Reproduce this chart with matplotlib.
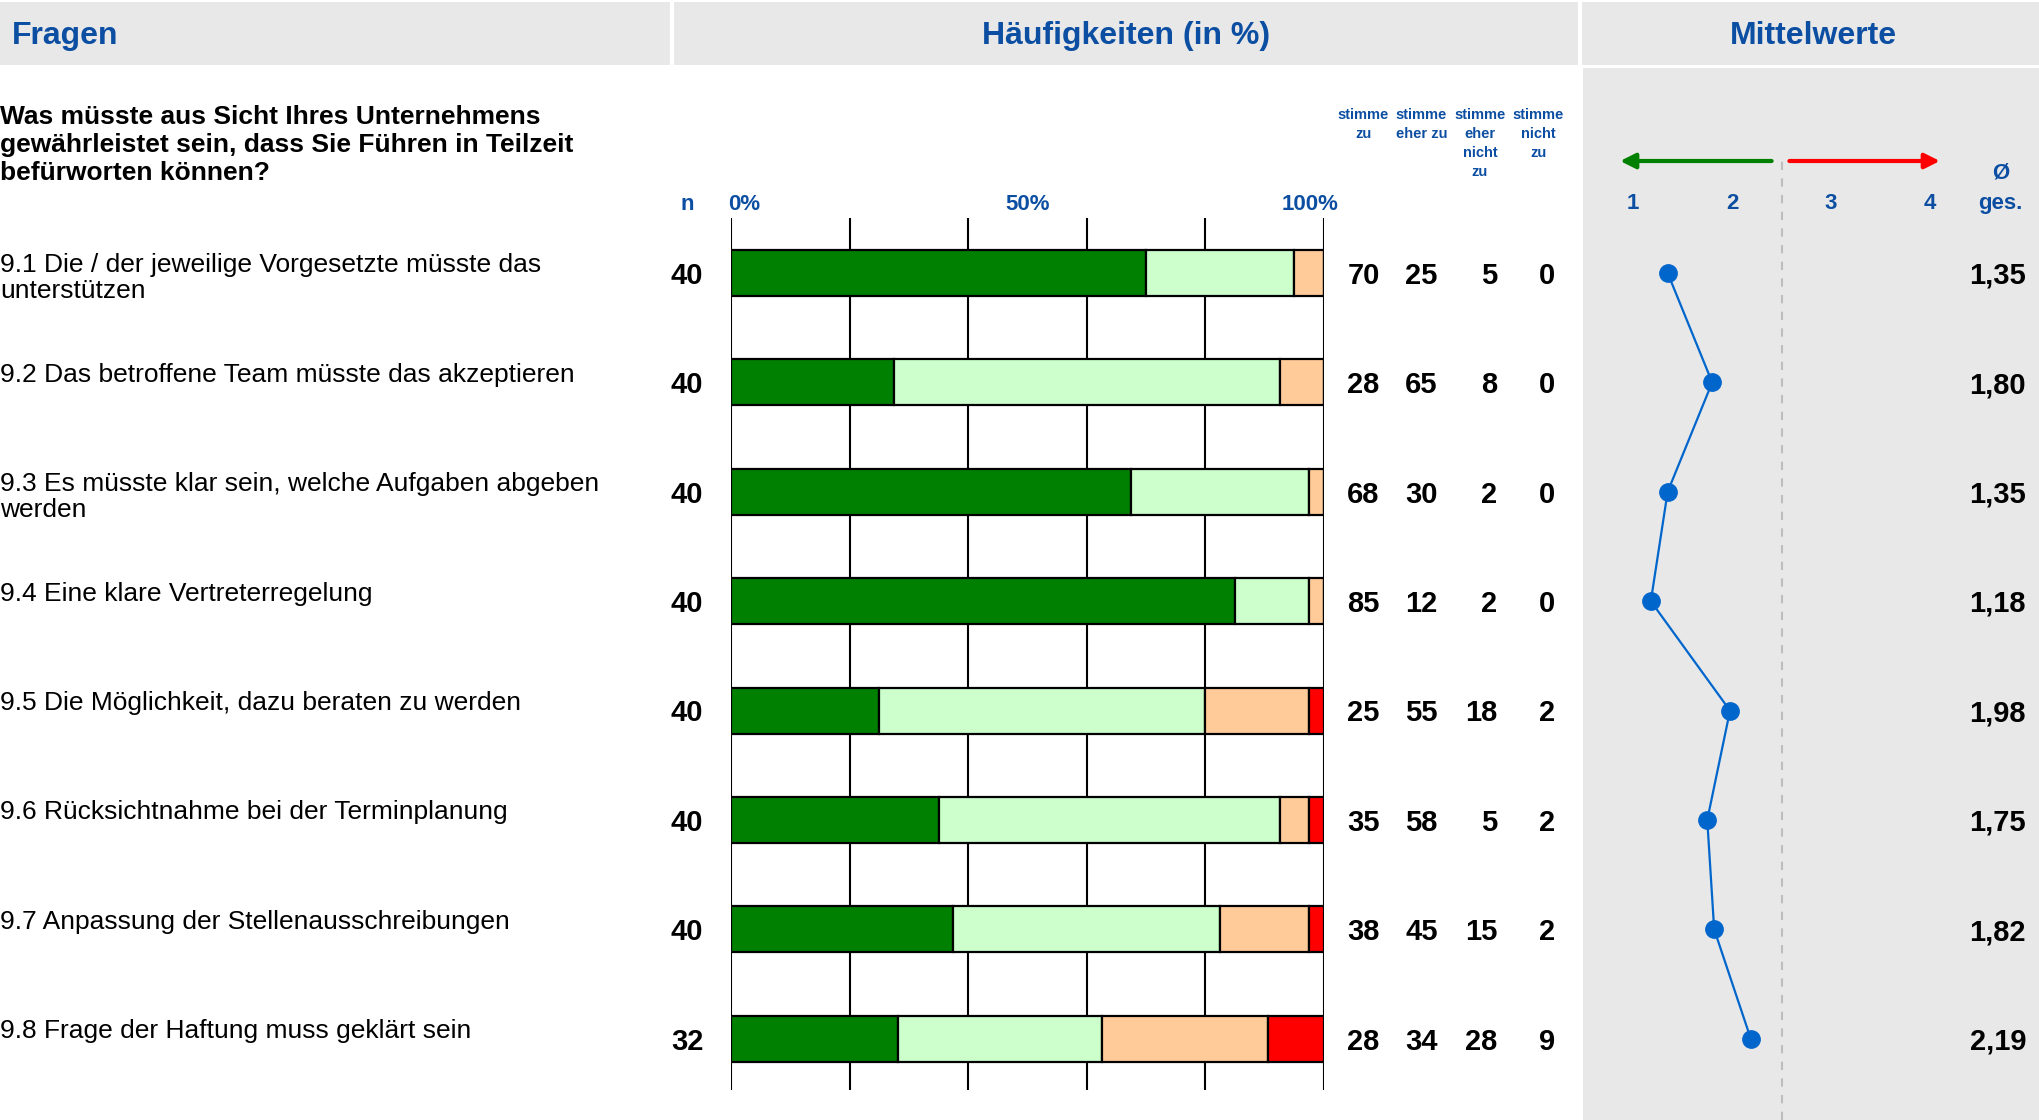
import matplotlib
matplotlib.use("Agg")
import matplotlib.pyplot as plt
from matplotlib.patches import Rectangle
from matplotlib.lines import Line2D
from matplotlib.transforms import blended_transform_factory

plt.rcParams['font.family'] = ['Liberation Sans Narrow', 'Liberation Sans', 'DejaVu Sans']

# questions and answers
title_question = ("Was müsste aus Sicht Ihres Unternehmens\n"
                  "gewährleistet sein, dass Sie Führen in Teilzeit\n"
                  "befürworten können?")
questions = [
    "9.1 Die / der jeweilige Vorgesetzte müsste das\nunterstützen",
    "9.2 Das betroffene Team müsste das akzeptieren",
    "9.3 Es müsste klar sein, welche Aufgaben abgeben\nwerden",
    "9.4 Eine klare Vertreterregelung",
    "9.5 Die Möglichkeit, dazu beraten zu werden",
    "9.6 Rücksichtnahme bei der Terminplanung",
    "9.7 Anpassung der Stellenausschreibungen",
    "9.8 Frage der Haftung muss geklärt sein",
]
n_values = [40, 40, 40, 40, 40, 40, 40, 32]

# shares in % (bar lengths)
share_agree = [70, 27.5, 67.5, 85, 25, 35, 37.5, 28.1]
share_rather_agree = [25, 65, 30, 12.5, 55, 57.5, 45, 34.4]
share_rather_disagree = [5, 7.5, 2.5, 2.5, 17.5, 5, 15, 28.1]
share_disagree = [0, 0, 0, 0, 2.5, 2.5, 2.5, 9.4]

# printed labels next to the bars
labels_agree = [70, 28, 68, 85, 25, 35, 38, 28]
labels_rather_agree = [25, 65, 30, 12, 55, 58, 45, 34]
labels_rather_disagree = [5, 8, 2, 2, 18, 5, 15, 28]
labels_disagree = [0, 0, 0, 0, 2, 2, 2, 9]

means = [1.35, 1.80, 1.35, 1.18, 1.98, 1.75, 1.82, 2.19]

answer_names = ["stimme\nzu", "stimme\neher zu", "stimme\neher\nnicht\nzu", "stimme\nnicht\nzu"]
segment_colors = ["#008000", "#CCFFCC", "#FFCC99", "#FF0000"]
scale_ticks = [1, 2, 3, 4]

BLUE = "#0B4EA2"
GREY = "#E8E8E8"
W, H = 2039, 1120
ROW0, ROWH = 273, 109.4


def fx(px):
    return px / W


def fy(py):
    return 1 - py / H


def row_of(py):
    return (py - ROW0) / ROWH


fig = plt.figure(figsize=(W / 100, H / 100), dpi=100)

# header band
fig.patches.append(Rectangle((0, fy(65)), 1, (65 - 2) / H, transform=fig.transFigure,
                             facecolor=GREY, edgecolor="none", zorder=0))
for sx in (672, 1580):
    fig.lines.append(Line2D([fx(sx), fx(sx)], [fy(65), fy(2)], transform=fig.transFigure,
                            color="white", lw=3))
fig.text(fx(12), fy(36), "Fragen", color=BLUE, fontsize=23, weight="bold", va="center")
fig.text(fx(1126), fy(36), "Häufigkeiten (in %)", color=BLUE, fontsize=23, weight="bold",
         va="center", ha="center")
fig.text(fx(1813), fy(36), "Mittelwerte", color=BLUE, fontsize=23, weight="bold",
         va="center", ha="center")

fig.text(0, fy(105), title_question, fontsize=19, weight="bold", va="top", ha="left",
         linespacing=1.2)

# frequency bars
rows = list(range(len(questions)))
ax = fig.add_axes([fx(731), fy(1090), (1324 - 731) / W, (1090 - 218) / H])
ax.set_xlim(0, 100)
ax.set_ylim(row_of(1090), row_of(218))
ax.axis("off")
ax.vlines([0, 20, 40, 60, 80, 100], row_of(1090), row_of(218), color="black", lw=1.5, zorder=1)

shares = [share_agree, share_rather_agree, share_rather_disagree, share_disagree]
left = [0] * len(rows)
for vals, col in zip(shares, segment_colors):
    ax.barh(rows, vals, left=left, height=0.42, color=col, edgecolor="black",
            linewidth=1.6, zorder=2)
    left = [l + v for l, v in zip(left, vals)]

head_cols = [106.6, 116.4, 126.3, 136.1]
value_cols = [109.4, 119.2, 129.2, 139.0]
labels = [labels_agree, labels_rather_agree, labels_rather_disagree, labels_disagree]
for xh, xv, lab, name in zip(head_cols, value_cols, labels, answer_names):
    ax.text(xh, row_of(108), name, ha="center", va="top", fontsize=10.5, weight="bold",
            color=BLUE, linespacing=1.45)
    for r, v in zip(rows, lab):
        ax.text(xv, r + 0.025, str(v), ha="right", va="center", fontsize=21, weight="bold")

hy = row_of(204)
ax.text(-7.4, hy, "n", ha="center", va="center", fontsize=16, weight="bold", color=BLUE)
ax.text(2.2, hy, "0%", ha="center", va="center", fontsize=16, weight="bold", color=BLUE)
ax.text(50, hy, "50%", ha="center", va="center", fontsize=16, weight="bold", color=BLUE)
ax.text(97.6, hy, "100%", ha="center", va="center", fontsize=16, weight="bold", color=BLUE)
for r, n in zip(rows, n_values):
    ax.text(-7.4, r + 0.025, str(n), ha="center", va="center", fontsize=21, weight="bold")

trans = blended_transform_factory(fig.transFigure, ax.transData)
for r, q in zip(rows, questions):
    fig.text(0, r - 0.18, q, transform=trans, fontsize=19, va="top", ha="left", linespacing=1.1)

# means panel
mx = fig.add_axes([fx(1583), 0, (W - 1583) / W, (H - 68) / H])
mx.set_facecolor(GREY)
mx.set_xlim(1 - 50 / 99, 4 + 109 / 99)
mx.set_ylim(row_of(1120), row_of(68))
mx.set_xticks([])
mx.set_yticks([])
for s in mx.spines.values():
    s.set_visible(False)

mx.vlines(2.5, row_of(1120), row_of(157), colors="#BDBDBD", linestyles=(0, (4, 4)), lw=1.5)
mx.plot(means, rows, color="#0066CC", lw=1.6, marker="o", ms=12.5, zorder=3)
for r, m in zip(rows, means):
    mx.text(4.97, r + 0.025, f"{m:.2f}".replace(".", ","), ha="right", va="center",
            fontsize=21, weight="bold")

ya = row_of(161)
mx.annotate("", xy=(0.87, ya), xytext=(2.4, ya),
            arrowprops=dict(arrowstyle="-|>,head_length=0.9,head_width=0.45",
                            color="#008000", lw=3, shrinkA=0, shrinkB=0))
mx.annotate("", xy=(4.1, ya), xytext=(2.58, ya),
            arrowprops=dict(arrowstyle="-|>,head_length=0.9,head_width=0.45",
                            color="#FF0000", lw=3, shrinkA=0, shrinkB=0))
for t in scale_ticks:
    mx.text(t, row_of(204), str(t), ha="center", va="center", fontsize=16,
            weight="bold", color=BLUE)
mx.text(4.71, row_of(173), "Ø", ha="center", va="center", fontsize=16, weight="bold", color=BLUE)
mx.text(4.71, row_of(204), "ges.", ha="center", va="center", fontsize=16, weight="bold",
        color=BLUE)

fig.savefig("out.png", dpi=100)
